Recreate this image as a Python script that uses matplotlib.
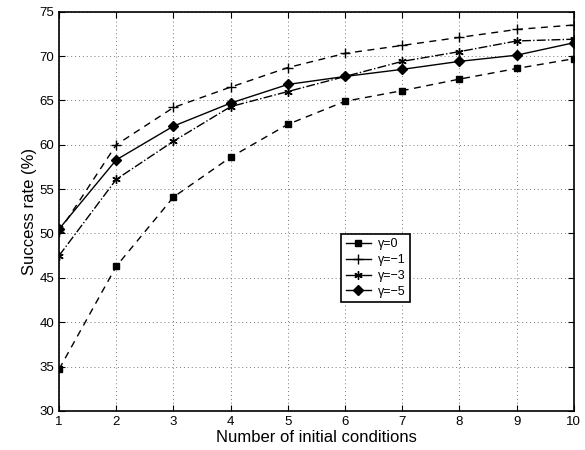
import matplotlib
matplotlib.use("Agg")
import matplotlib.pyplot as plt

plt.rcParams['font.family'] = ['Liberation Sans', 'DejaVu Sans']

n_init = [1, 2, 3, 4, 5, 6, 7, 8, 9, 10]
gamma_0 = [34.7, 46.3, 54.1, 58.6, 62.3, 64.9, 66.1, 67.4, 68.6, 69.7]
gamma_m1 = [50.2, 60.0, 64.2, 66.5, 68.7, 70.3, 71.2, 72.1, 73.0, 73.5]
gamma_m3 = [47.5, 56.1, 60.4, 64.3, 66.0, 67.7, 69.4, 70.5, 71.7, 71.9]
gamma_m5 = [50.5, 58.3, 62.1, 64.7, 66.8, 67.7, 68.5, 69.4, 70.1, 71.5]

fig = plt.figure(figsize=(5.85, 4.5), dpi=100)
ax = fig.add_axes([0.101, 0.087, 0.880, 0.887])

ax.plot(n_init, gamma_0, 'k--', marker='s', markersize=4.5, lw=1, dashes=(5, 4), label='\u03b3=0')
ax.plot(n_init, gamma_m1, 'k--', marker='+', markersize=7, mew=1, lw=1, dashes=(5, 4), label='\u03b3=\u22121')
ax.plot(n_init, gamma_m3, 'k-.', marker=(6, 2, 0), markersize=6, mew=1, lw=1, label='\u03b3=\u22123')
ax.plot(n_init, gamma_m5, 'k-', marker='D', markersize=5, lw=1, label='\u03b3=\u22125')

ax.set_xlim(1, 10)
ax.set_ylim(30, 75)
ax.set_xticks(n_init)
ax.set_yticks(range(30, 76, 5))
ax.grid(True, linestyle=(0, (1, 3)), color='#777777', lw=0.7)
ax.tick_params(direction='in', labelsize=9.5, top=True, right=True, length=4)
for s in ax.spines.values():
    s.set_linewidth(1.2)

ax.set_xlabel('Number of initial conditions', fontsize=12, labelpad=2)
ax.set_ylabel('Success rate (%)', fontsize=12, labelpad=2)

leg = ax.legend(loc='upper left', bbox_to_anchor=(0.548, 0.443), fontsize=9,
                fancybox=False, framealpha=1, edgecolor='black',
                handlelength=2.0, borderpad=0.35, labelspacing=0.3,
                handletextpad=0.6, borderaxespad=0)
leg.get_frame().set_linewidth(1.2)
for h in leg.get_lines():
    h.set_linestyle('-')

fig.savefig('out.png', dpi=100)
